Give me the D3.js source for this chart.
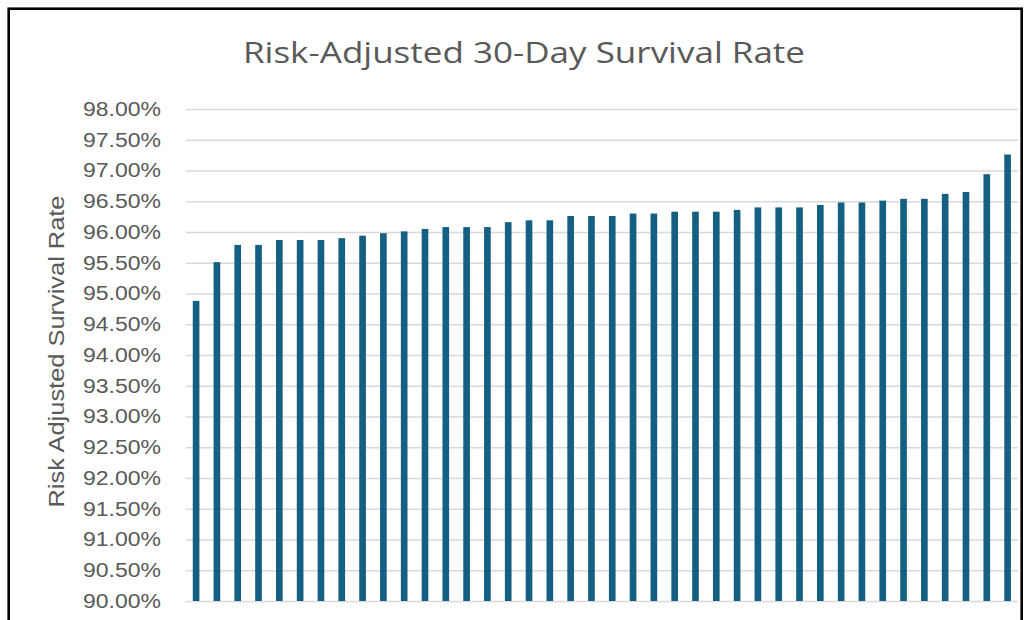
<!DOCTYPE html>
<html>
<head>
<meta charset="utf-8">
<script src="https://cdn.jsdelivr.net/npm/d3@7"></script>
<style>
  html, body { margin: 0; padding: 0; background: #ffffff; }
  svg { display: block; }
</style>
</head>
<body>
<svg id="chart" width="1029" height="620"></svg>
<script>
// Hospitals ranked by risk-adjusted 30-day survival (ascending)
const hospitals = [
  "H01","H02","H03","H04","H05","H06","H07","H08","H09","H10",
  "H11","H12","H13","H14","H15","H16","H17","H18","H19","H20",
  "H21","H22","H23","H24","H25","H26","H27","H28","H29","H30",
  "H31","H32","H33","H34","H35","H36","H37","H38","H39","H40"
];

// Survival rate, in percent
const survivalRate = [
  94.88, 95.51, 95.79, 95.79, 95.87, 95.87, 95.87, 95.90, 95.94, 95.98,
  96.01, 96.05, 96.08, 96.08, 96.08, 96.16, 96.19, 96.19, 96.26, 96.26,
  96.26, 96.30, 96.30, 96.33, 96.33, 96.33, 96.36, 96.40, 96.40, 96.40,
  96.44, 96.48, 96.48, 96.51, 96.54, 96.54, 96.62, 96.65, 96.94, 97.26
];

// Y axis ticks, in percent
const yTicks = [90, 90.5, 91, 91.5, 92, 92.5, 93, 93.5, 94, 94.5, 95, 95.5, 96, 96.5, 97, 97.5, 98];

const chartTitle = "Risk-Adjusted 30-Day Survival Rate";
const yTitle = "Risk Adjusted Survival Rate";

const svg = d3.select("#chart");
const plot = { left: 185.7, right: 1018, top: 109, bottom: 601 };
const textColor = "#595959";

const x = d3.scaleBand()
  .domain(hospitals)
  .range([plot.left, plot.right])
  .paddingInner(0.68)
  .paddingOuter(0.34);

const y = d3.scaleLinear()
  .domain([90, 98])
  .range([plot.bottom, plot.top]);

// Horizontal gridlines
svg.append("g")
  .attr("transform", `translate(${plot.left},0)`)
  .call(d3.axisLeft(y)
    .tickValues(yTicks)
    .tickSize(-(plot.right - plot.left))
    .tickFormat(""))
  .call(g => g.select(".domain").remove())
  .call(g => g.selectAll(".tick line")
    .attr("stroke", "#d9d9d9")
    .attr("stroke-width", 1.3));

// Y tick labels
svg.append("g")
  .attr("transform", "translate(161,0)")
  .call(d3.axisLeft(y)
    .tickValues(yTicks)
    .tickSize(0)
    .tickPadding(0)
    .tickFormat(d => d3.format(".2f")(d) + "%"))
  .call(g => g.select(".domain").remove())
  .call(g => g.selectAll("text")
    .attr("fill", textColor)
    .attr("font-family", "'Liberation Sans', Arial, sans-serif")
    .attr("font-size", 20)
    .attr("textLength", 78)
    .attr("lengthAdjust", "spacingAndGlyphs"));

// Bars
svg.append("g")
  .selectAll("rect")
  .data(survivalRate)
  .join("rect")
  .attr("x", (d, i) => x(hospitals[i]))
  .attr("width", x.bandwidth())
  .attr("y", d => y(d))
  .attr("height", d => y(90) - y(d))
  .attr("fill", "#156082");

// Chart title
svg.append("text")
  .attr("x", 524)
  .attr("y", 63)
  .attr("text-anchor", "middle")
  .attr("fill", textColor)
  .attr("font-family", "'Open Sans', 'Noto Sans', sans-serif")
  .attr("font-size", 30)
  .attr("textLength", 562)
  .attr("lengthAdjust", "spacingAndGlyphs")
  .text(chartTitle);

// Y axis title
svg.append("text")
  .attr("transform", "translate(64,351.5) rotate(-90)")
  .attr("text-anchor", "middle")
  .attr("fill", textColor)
  .attr("font-family", "'Liberation Sans', Arial, sans-serif")
  .attr("font-size", 21.5)
  .attr("textLength", 312)
  .attr("lengthAdjust", "spacingAndGlyphs")
  .text(yTitle);

// Outer frame
svg.append("rect")
  .attr("x", 8.7)
  .attr("y", 8.7)
  .attr("width", 1013)
  .attr("height", 640)
  .attr("fill", "none")
  .attr("stroke", "#000000")
  .attr("stroke-width", 2.6);
</script>
</body>
</html>
